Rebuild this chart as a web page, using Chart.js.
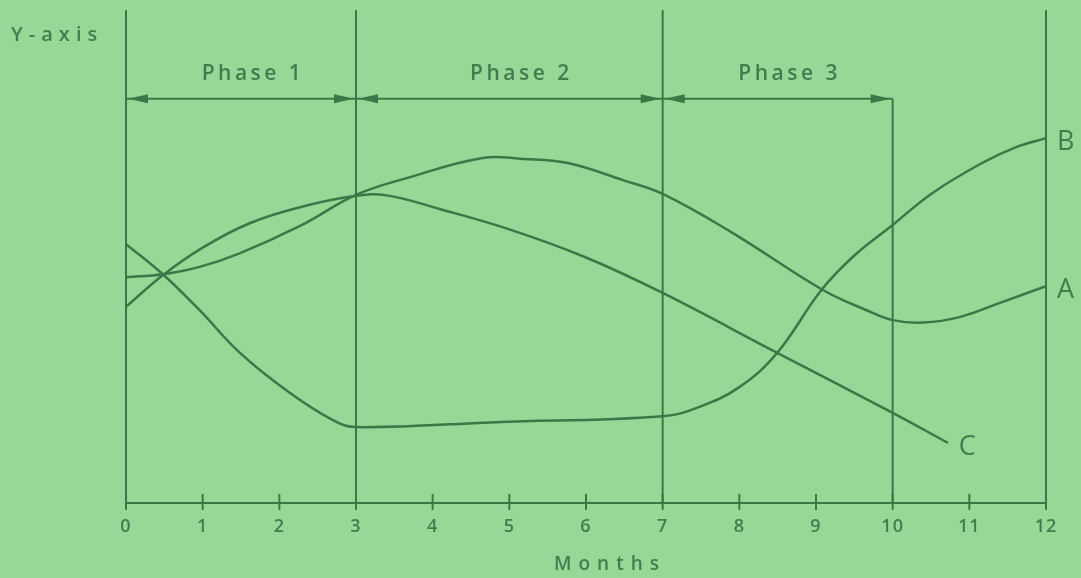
<!DOCTYPE html>
<html>
<head>
<meta charset="utf-8">
<script src="https://cdn.jsdelivr.net/npm/chart.js@4"></script>
<style>
  html, body { margin: 0; padding: 0; background: #97d897; }
  #wrap { width: 1081px; height: 578px; }
</style>
</head>
<body>
<div id="wrap"><canvas id="chart" width="1081" height="578"></canvas></div>
<script>
// ---------------------------------------------------------------------------
// Data (y in arbitrary units, 0 = axis, 100 = top)
// ---------------------------------------------------------------------------
const tickMonths = [0, 1, 2, 3, 4, 5, 6, 7, 8, 9, 10, 11, 12];
const tickLabels = ['0', '1', '2', '3', '4', '5', '6', '7', '8', '9', '10', '11', '12'];

const monthsA = [0, 0.48, 0.96, 1.49, 2.27, 3, 3.66, 4.65, 5.18, 5.75, 6.48, 7, 7.91, 9.09, 9.66, 10, 10.4, 10.87, 11.4, 12];
const valuesA = [45.8, 46.4, 47.9, 50.7, 56.2, 62.5, 65.9, 70.0, 69.8, 69.0, 65.5, 62.7, 54.8, 43.2, 39.1, 37.1, 36.6, 37.7, 40.6, 44.0];

const monthsB = [0, 0.48, 0.96, 1.49, 2.14, 2.7, 3, 4.82, 7, 7.48, 8.0, 8.49, 9.07, 9.5, 10, 10.52, 11.17, 11.61, 12];
const valuesB = [52.5, 46.4, 39.1, 30.4, 22.3, 16.8, 15.4, 16.4, 17.6, 19.5, 23.5, 30.4, 43.2, 50.2, 56.4, 62.9, 69.0, 72.2, 74.0];

const monthsC = [0, 0.48, 1.0, 1.62, 2.27, 3, 3.4, 4.1, 5, 6, 7, 8.5, 10, 10.72];
const valuesC = [39.8, 46.2, 51.8, 56.8, 60.0, 62.3, 62.4, 59.6, 55.5, 49.8, 42.6, 30.4, 18.3, 12.2];

const seriesNames = ['A', 'B', 'C'];

const dividerMonths = [0, 3, 7, 10, 12];
const dividerTops   = [100, 100, 100, 82, 100];

const phaseNames  = ['Phase 1', 'Phase 2', 'Phase 3'];
const phaseStarts = [0, 3, 7];
const phaseEnds   = [3, 7, 10];
const phaseArrowY = 82;
const phaseLabelY = 87;

const INK = '#3d7747';
const TEXT = '#457c4e';
const BG = '#97d897';
const FONT = '"Open Sans", "DejaVu Sans", sans-serif';

function pts(xs, ys) { return xs.map((x, i) => ({ x, y: ys[i] })); }

// ---------------------------------------------------------------------------
// Plugin: background, phase dividers, arrows, ticks and labels
// ---------------------------------------------------------------------------
function arrowHead(ctx, x, y, dir) {
  ctx.beginPath();
  ctx.moveTo(x, y);
  ctx.lineTo(x - dir * 20, y - 4.5);
  ctx.lineTo(x - dir * 20, y + 4.5);
  ctx.closePath();
  ctx.fill();
}

const drawingPlugin = {
  id: 'drawing',
  beforeDraw(chart) {
    const { ctx } = chart;
    ctx.save();
    ctx.fillStyle = BG;
    ctx.fillRect(0, 0, chart.width, chart.height);
    ctx.restore();
    ctx.letterSpacing = '1px';
  },
  beforeDatasetsDraw(chart) {
    const { ctx, scales: { x, y } } = chart;
    ctx.save();
    ctx.strokeStyle = INK;
    ctx.fillStyle = INK;
    ctx.lineWidth = 2;

    // vertical phase dividers
    dividerMonths.forEach((m, i) => {
      const px = x.getPixelForValue(m);
      ctx.beginPath();
      ctx.moveTo(px, y.getPixelForValue(dividerTops[i]));
      ctx.lineTo(px, y.getPixelForValue(0));
      ctx.stroke();
    });

    // small ticks crossing the axis
    tickMonths.forEach(m => {
      const px = x.getPixelForValue(m);
      const py = y.getPixelForValue(0);
      ctx.beginPath();
      ctx.moveTo(px, py - 9);
      ctx.lineTo(px, py + 7);
      ctx.stroke();
    });

    // phase arrows and labels
    const ay = y.getPixelForValue(phaseArrowY);
    ctx.font = '600 21px ' + FONT;
    ctx.letterSpacing = '3.5px';
    ctx.textAlign = 'center';
    ctx.textBaseline = 'middle';
    phaseNames.forEach((name, i) => {
      const x0 = x.getPixelForValue(phaseStarts[i]);
      const x1 = x.getPixelForValue(phaseEnds[i]);
      ctx.lineWidth = 2;
      ctx.beginPath();
      ctx.moveTo(x0, ay);
      ctx.lineTo(x1, ay);
      ctx.stroke();
      arrowHead(ctx, x0 + 2, ay, -1);
      arrowHead(ctx, x1 - 2, ay, 1);
      ctx.fillStyle = TEXT;
      ctx.fillText(name, (x0 + x1) / 2 + 12, y.getPixelForValue(phaseLabelY));
      ctx.fillStyle = INK;
    });

    // Y-axis caption
    ctx.textAlign = 'left';
    ctx.font = '600 20px ' + FONT;
    ctx.letterSpacing = '6px';
    ctx.fillStyle = TEXT;
    ctx.fillText('Y-axis', 11, 35);

    // x-axis title
    ctx.textAlign = 'center';
    ctx.font = '600 19px ' + FONT;
    ctx.letterSpacing = '7px';
    ctx.fillText('Months', 610, 565);
    ctx.restore();
  },
  afterDatasetsDraw(chart) {
    const { ctx } = chart;
    ctx.save();
    ctx.letterSpacing = '0px';
    ctx.font = '27px ' + FONT;
    ctx.fillStyle = TEXT;
    ctx.textBaseline = 'middle';
    ctx.textAlign = 'left';
    chart.data.datasets.forEach((ds, i) => {
      const meta = chart.getDatasetMeta(i);
      const last = meta.data[meta.data.length - 1];
      ctx.fillText(seriesNames[i], last.x + 11, last.y + 4);
    });
    ctx.restore();
  },
};

const lineStyle = {
  borderColor: INK,
  borderWidth: 2.5,
  pointRadius: 0,
  fill: false,
  tension: 0.4,
};

new Chart(document.getElementById('chart'), {
  type: 'line',
  data: {
    datasets: [
      { label: 'A', data: pts(monthsA, valuesA), ...lineStyle },
      { label: 'B', data: pts(monthsB, valuesB), ...lineStyle },
      { label: 'C', data: pts(monthsC, valuesC), ...lineStyle },
    ],
  },
  options: {
    responsive: false,
    animation: false,
    events: [],
    layout: { padding: { left: 126, right: 35, top: 10, bottom: 0 } },
    plugins: {
      legend: { display: false },
      tooltip: { enabled: false },
    },
    scales: {
      x: {
        type: 'linear',
        min: 0,
        max: 12,
        afterFit: s => { s.height = 75; },
        afterBuildTicks: s => { s.ticks = tickMonths.map(v => ({ value: v })); },
        grid: { display: false, drawTicks: false },
        border: { display: true, color: INK, width: 2 },
        ticks: {
          padding: 13,
          color: TEXT,
          font: { family: FONT, size: 18, weight: '600' },
          callback: (v) => tickLabels[tickMonths.indexOf(v)],
        },
        title: { display: false },
      },
      y: {
        display: false,
        min: 0,
        max: 100,
      },
    },
  },
  plugins: [drawingPlugin],
});
</script>
</body>
</html>
